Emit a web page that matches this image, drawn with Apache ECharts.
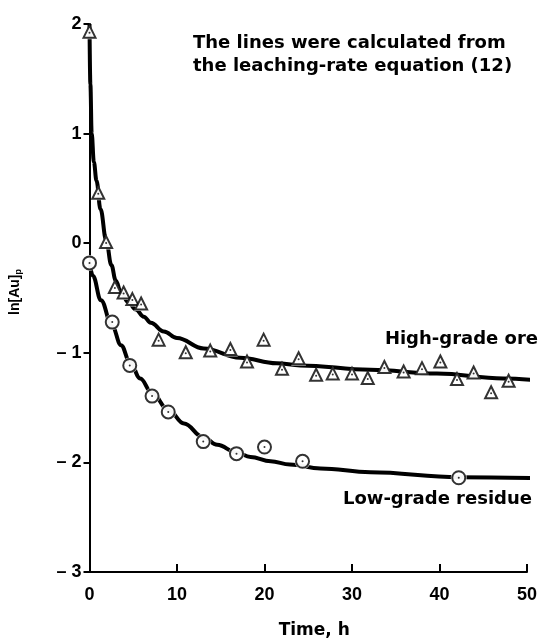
<!DOCTYPE html>
<html>
<head>
<meta charset="utf-8">
<script src="https://cdn.jsdelivr.net/npm/echarts@6/dist/echarts.min.js"></script>
<style>html,body{margin:0;padding:0;background:#fff;}#chart{width:540px;height:644px;}</style>
</head>
<body>
<div id="chart"></div>
<script>
// Measured data points (time, h ; ln[Au]p)
var highT = [0, 1.0, 1.9, 2.9, 3.9, 4.9, 5.9, 7.9, 11.0, 13.8, 16.1, 18.0, 19.9, 22.0, 23.9, 25.9, 27.8, 30.0, 31.8, 33.7, 35.9, 38.0, 40.1, 42.0, 43.9, 45.9, 47.9];
var highY = [1.93, 0.46, 0.01, -0.40, -0.45, -0.51, -0.55, -0.88, -0.995, -0.98, -0.965, -1.08, -0.88, -1.145, -1.05, -1.20, -1.19, -1.19, -1.23, -1.13, -1.17, -1.14, -1.08, -1.24, -1.18, -1.36, -1.255];
var lowT = [0, 2.6, 4.6, 7.15, 9.0, 13.0, 16.8, 20.0, 24.35, 42.2];
var lowY = [-0.18, -0.72, -1.115, -1.395, -1.54, -1.81, -1.92, -1.86, -1.99, -2.14];
// Calculated curves
var highCurveT = [0, 0.1, 0.25, 0.5, 0.8, 1.26, 1.9, 2.5, 3.0, 3.6, 4.4, 5.3, 6.2, 7.0, 8.5, 10.0, 13.05, 17.2, 21.4, 24.1, 32.1, 39.7, 47.3, 51.5];
var highCurveY = [2.0, 1.45, 1.0, 0.74, 0.57, 0.31, 0.03, -0.2, -0.34, -0.45, -0.535, -0.605, -0.67, -0.725, -0.805, -0.865, -0.96, -1.045, -1.095, -1.115, -1.155, -1.19, -1.235, -1.255];
var lowCurveT = [0, 0.4, 1.3, 2.6, 3.6, 4.6, 5.8, 7.15, 9.0, 10.8, 13.0, 14.6, 16.8, 18.4, 20.7, 22.9, 26.4, 32.1, 42.2, 51.3];
var lowCurveY = [-0.18, -0.30, -0.52, -0.76, -0.93, -1.08, -1.235, -1.37, -1.52, -1.645, -1.77, -1.84, -1.91, -1.95, -1.99, -2.02, -2.055, -2.09, -2.135, -2.145];
var xTicks = [0, 10, 20, 30, 40, 50];
var yTicks = [-3, -2, -1, 0, 1, 2];

function pairs(a, b) { return a.map(function (v, i) { return [v, b[i]]; }); }
var FONT = 'Liberation Sans';
var WIDE = 'DejaVu Sans';

var chart = echarts.init(document.getElementById('chart'), null, {renderer: 'canvas'});
chart.setOption({
  backgroundColor: '#fff',
  animation: false,
  textStyle: {fontFamily: FONT, fontWeight: 'bold', color: '#000'},
  grid: {left: 89, top: 24, right: 13, bottom: 69, containLabel: false},
  xAxis: {
    type: 'value', min: xTicks[0], max: xTicks[xTicks.length - 1], interval: 10,
    name: 'Time, h', nameLocation: 'middle', nameGap: 50,
    nameTextStyle: {fontFamily: WIDE, fontWeight: 'bold', fontSize: 17, color: '#000', padding: [0, 0, 0, 12]},
    axisLine: {onZero: false, lineStyle: {color: '#000', width: 2}},
    axisTick: {inside: true, length: 8, lineStyle: {color: '#000', width: 2}},
    axisLabel: {fontFamily: FONT, fontWeight: 'bold', fontSize: 18, color: '#000', margin: 14},
    splitLine: {show: false}
  },
  yAxis: {
    type: 'value', min: yTicks[0], max: yTicks[yTicks.length - 1], interval: 1,
    name: 'ln[Au]{s|p}', nameLocation: 'middle', nameGap: 66, nameRotate: 90,
    nameTextStyle: {fontFamily: FONT, fontWeight: 'bold', fontSize: 14, color: '#000', padding: [0, 0, 0, 12],
      rich: {s: {fontFamily: FONT, fontWeight: 'bold', fontSize: 9, color: '#000', padding: [8, 0, 0, 0]}}},
    axisLine: {onZero: false, lineStyle: {color: '#000', width: 2}},
    axisTick: {inside: false, length: 6, lineStyle: {color: '#000', width: 2}},
    axisLabel: {fontFamily: FONT, fontWeight: 'bold', fontSize: 18, color: '#000', margin: 8,
      formatter: function (v) { return v < 0 ? '\u2013 ' + Math.abs(v) : String(v); }},
    splitLine: {show: false}
  },
  series: [
    {type: 'line', data: pairs(highCurveT, highCurveY), smooth: 0.4, smoothMonotone: 'x', showSymbol: false, clip: false,
      lineStyle: {color: '#000', width: 4}, z: 2},
    {type: 'line', data: pairs(lowCurveT, lowCurveY), smooth: 0.4, smoothMonotone: 'x', showSymbol: false, clip: false,
      lineStyle: {color: '#000', width: 4}, z: 2},
    // white halos producing gaps in the lines around markers
    {type: 'scatter', data: pairs(highT, highY), symbol: 'triangle', symbolSize: 15, itemStyle: {color: '#fff'}, z: 3, silent: true},
    {type: 'scatter', data: pairs(lowT, lowY), symbol: 'circle', symbolSize: 16, itemStyle: {color: '#fff'}, z: 3, silent: true},
    // markers
    {type: 'scatter', data: pairs(highT, highY), symbol: 'triangle', symbolSize: 12,
      itemStyle: {color: '#fff', borderColor: '#000', borderWidth: 2}, z: 4},
    {type: 'scatter', data: pairs(lowT, lowY), symbol: 'circle', symbolSize: 13,
      itemStyle: {color: '#fff', borderColor: '#000', borderWidth: 2}, z: 4},
    // centre dots
    {type: 'scatter', data: pairs(highT, highY), symbol: 'circle', symbolSize: 2, symbolOffset: [0, 1], itemStyle: {color: '#000'}, z: 5},
    {type: 'scatter', data: pairs(lowT, lowY), symbol: 'circle', symbolSize: 2, itemStyle: {color: '#000'}, z: 5}
  ],
  graphic: [
    {type: 'text', left: 193, top: 32, style: {text: 'The lines were calculated from\nthe leaching-rate equation (12)',
      font: 'bold 18px "DejaVu Sans"', fill: '#000', lineHeight: 23}},
    {type: 'text', right: 2, top: 330, style: {text: 'High-grade ore', font: 'bold 18px "DejaVu Sans"', fill: '#000'}},
    {type: 'text', right: 8, top: 490, style: {text: 'Low-grade residue', font: 'bold 18px "DejaVu Sans"', fill: '#000'}}
  ]
});
</script>
</body>
</html>
